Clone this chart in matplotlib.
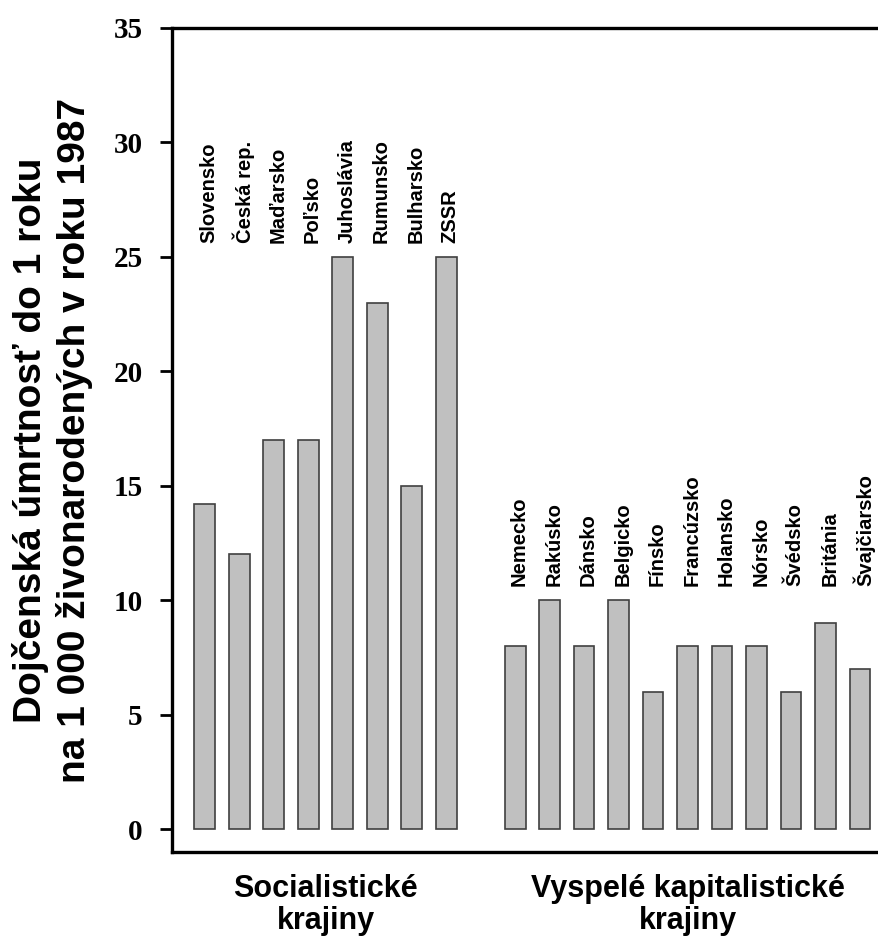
import matplotlib.pyplot as plt
import numpy as np

# Dojčenská úmrtnosť 1987 - socialistické a kapitalistické krajiny
soc_krajiny = ["Slovensko", "Česká rep.", "Maďarsko", "Poľsko",
               "Juhoslávia", "Rumunsko", "Bulharsko", "ZSSR"]
soc_hodnoty = [14.2, 12, 17, 17, 25, 23, 15, 25]

kap_krajiny = ["Nemecko", "Rakúsko", "Dánsko", "Belgicko", "Fínsko",
               "Francúzsko", "Holansko", "Nórsko", "Švédsko", "Británia",
               "Švajčiarsko"]
kap_hodnoty = [8, 10, 8, 10, 6, 8, 8, 8, 6, 9, 7]

skupiny = ["Socialistické\nkrajiny", "Vyspelé kapitalistické\nkrajiny"]

# pozície stĺpcov: medzera medzi skupinami
x_soc = np.arange(1, len(soc_hodnoty) + 1)
x_kap = np.arange(10, 10 + len(kap_hodnoty))

fig = plt.figure(figsize=(8.79, 9.38), dpi=100)
ax = fig.add_axes([0.1957, 0.0917, 0.8043, 0.8785])

styl = dict(width=0.6, color="#c0c0c0", edgecolor="#404040", linewidth=1.2)
ax.bar(x_soc, soc_hodnoty, **styl)
ax.bar(x_kap, kap_hodnoty, **styl)

popis = dict(rotation=90, ha="center", va="bottom", fontsize=14.5,
             fontweight="bold", family="Liberation Sans")
for x, n in zip(x_soc, soc_krajiny):
    ax.text(x + 0.12, 25.6, n, **popis)
for x, n in zip(x_kap, kap_krajiny):
    ax.text(x + 0.12, 10.6, n, **popis)

ax.set_xlim(0.05, 20.55)
ax.set_ylim(-1, 35)
ax.set_yticks(np.arange(0, 36, 5))
ax.set_xticks([4.5, 15])
ax.set_xticklabels(skupiny, fontsize=22, fontweight="bold",
                   family="Liberation Sans", linespacing=1.08)
ax.tick_params(axis="x", length=0, pad=16)
ax.tick_params(axis="y", length=9, width=2, pad=12)
for t in ax.get_yticklabels():
    t.set_family("Liberation Serif")
    t.set_fontweight("bold")
    t.set_fontsize(21)

ax.set_ylabel("Dojčenská úmrtnosť do 1 roku\nna 1 000 živonarodených v roku 1987",
              fontsize=28, fontweight="bold", family="Liberation Sans",
              linespacing=1.22, labelpad=15)

ax.spines["right"].set_visible(False)
for s in ["left", "bottom", "top"]:
    ax.spines[s].set_linewidth(2.4)

fig.savefig("out.png", dpi=100)
